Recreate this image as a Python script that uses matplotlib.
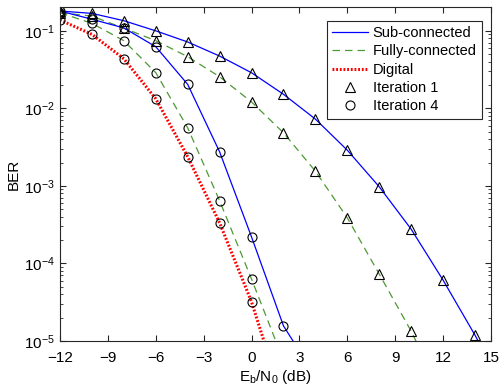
import matplotlib
matplotlib.use("Agg")
import matplotlib.pyplot as plt
from matplotlib.ticker import LogLocator, NullFormatter

plt.rcParams['font.family'] = ['Liberation Sans', 'DejaVu Sans']
plt.rcParams['font.size'] = 10

# Eb/N0 (dB) and BER values
snr_sub_it1 = [-12, -10, -8, -6, -4, -2, 0, 2, 4, 6, 8, 10, 12, 14, 16]
ber_sub_it1 = [0.18, 0.168, 0.135, 0.100, 0.0718, 0.0473, 0.0288, 0.0152,
               0.00728, 0.00289, 0.000975, 0.000277, 6.1e-5, 1.19e-5, 2e-6]

snr_full_it1 = [-12, -10, -8, -6, -4, -2, 0, 2, 4, 6, 8, 10, 12]
ber_full_it1 = [0.171, 0.155, 0.108, 0.0747, 0.0464, 0.0256, 0.0121, 0.00485,
                0.00155, 0.000388, 7.3e-5, 1.34e-5, 1.9e-6]

snr_sub_it4 = [-12, -10, -8, -6, -4, -2, 0, 2, 4]
ber_sub_it4 = [0.18, 0.141, 0.109, 0.0624, 0.0204, 0.00275, 0.00022, 1.57e-5, 3.5e-6]

snr_full_it4 = [-12, -10, -8, -6, -4, -2, 0, 2]
ber_full_it4 = [0.171, 0.125, 0.0746, 0.0289, 0.00562, 0.000643, 6.3e-5, 5.6e-6]

snr_digital = [-12, -10, -8, -6, -4, -2, 0, 2]
ber_digital = [0.138, 0.0901, 0.0436, 0.0133, 0.00238, 0.000334, 3.2e-5, 1.6e-6]

xticks = [-12, -9, -6, -3, 0, 3, 6, 9, 12, 15]

blue = (0, 0, 1)
green = (0.3, 0.6, 0.2)
red = (1, 0, 0)
mk = dict(color='none', markeredgecolor='black', markerfacecolor='none',
          markersize=6.5, markeredgewidth=0.8, linestyle='none')

fig = plt.figure(figsize=(5.02, 3.88), dpi=100)
ax = fig.add_axes([0.1195, 0.1211, 0.8585, 0.8596])

ax.plot(snr_sub_it1, ber_sub_it1, color=blue, lw=0.9, label='Sub-connected')
ax.plot(snr_full_it1, ber_full_it1, color=green, lw=0.9, ls=(0, (6, 4)), label='Fully-connected')
ax.plot(snr_digital, ber_digital, color=red, lw=2.2, ls=(0, (0.6, 0.6)), label='Digital')
ax.plot(snr_sub_it4, ber_sub_it4, color=blue, lw=0.9)
ax.plot(snr_full_it4, ber_full_it4, color=green, lw=0.9, ls=(0, (6, 4)))

ax.plot(snr_sub_it1, ber_sub_it1, marker='^', label='Iteration 1', **mk)
ax.plot(snr_full_it1, ber_full_it1, marker='^', **mk)
ax.plot(snr_sub_it4, ber_sub_it4, marker='o', label='Iteration 4', **mk)
ax.plot(snr_full_it4, ber_full_it4, marker='o', **mk)
ax.plot(snr_digital, ber_digital, marker='o', **mk)

ax.set_yscale('log')
ax.set_xlim(-12, 15)
ax.set_ylim(1e-5, 0.2)
ax.set_xticks(xticks)
ax.yaxis.set_minor_locator(LogLocator(base=10, subs=range(2, 10)))
ax.yaxis.set_minor_formatter(NullFormatter())
ax.tick_params(which='both', direction='in', top=True, right=True, colors='#262626',
               labelcolor='black', labelsize=11)
ax.tick_params(which='major', length=4)
ax.tick_params(which='minor', length=2)
ax.tick_params(axis='x', pad=7)
ax.tick_params(axis='y', pad=4)
for s in ax.spines.values():
    s.set_color('#262626')
    s.set_linewidth(0.8)

ax.set_xlabel(r'E$_\mathregular{b}$/N$_\mathregular{0}$ (dB)', labelpad=2, fontsize=11)
ax.set_ylabel('BER', labelpad=2, fontsize=11)

leg = ax.legend(loc='upper right', bbox_to_anchor=(0.979, 0.96), borderaxespad=0,
                fancybox=False, framealpha=1, edgecolor='#262626',
                borderpad=0.35, labelspacing=0.3, handlelength=2.5, handletextpad=0.3,
                fontsize=10.5)
leg.get_frame().set_linewidth(0.8)

fig.savefig('out.png', dpi=100)
